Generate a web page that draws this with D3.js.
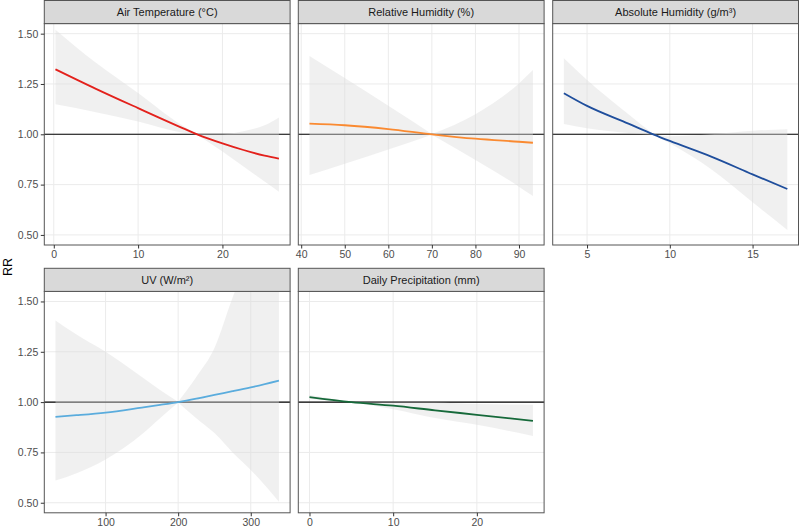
<!DOCTYPE html>
<html lang="en">
  <head>
    <meta charset="UTF-8" />
    <title>RR by weather variable</title>
    <script src="https://d3js.org/d3.v7.min.js"></script>
    <style>
      body { margin: 0; background: #fff; }
      svg { font-family: "Liberation Sans", Arial, sans-serif; }
    </style>
  </head>
  <body>
    <div id="chart"></div>
    <script>
      // values (RR with 95% band)
      const titles = [
        "Air Temperature (°C)",
        "Relative Humidity (%)",
        "Absolute Humidity (g/m³)",
        "UV (W/m²)",
        "Daily Precipitation (mm)",
      ];
      const colors = ["#E3211C", "#FA8A31", "#1F4E9C", "#5AACDD", "#16693A"];

      const tempX = [0.2, 5, 10, 15, 17, 20, 22.5, 25, 26.7];
      const tempFit = [1.323, 1.226, 1.13, 1.036, 1.0, 0.955, 0.922, 0.894, 0.879];
      const tempLo = [1.149, 1.11, 1.063, 1.01, 0.998, 0.914, 0.84, 0.765, 0.715];
      const tempHi = [1.52, 1.355, 1.205, 1.05, 1.002, 1.0, 1.015, 1.045, 1.084];

      const rhX = [41.9, 50, 60, 70, 80, 90, 93.2];
      const rhFit = [1.053, 1.045, 1.026, 1.0, 0.978, 0.963, 0.958];
      const rhLo = [0.798, 0.854, 0.925, 0.998, 0.872, 0.74, 0.693];
      const rhHi = [1.389, 1.28, 1.142, 1.002, 1.1, 1.253, 1.319];

      const ahX = [3.6, 5, 7.5, 9, 10, 12.5, 15, 17.1];
      const ahFit = [1.204, 1.141, 1.053, 1.0, 0.967, 0.889, 0.801, 0.728];
      const ahLo = [1.051, 1.03, 1.007, 0.998, 0.955, 0.826, 0.662, 0.525];
      const ahHi = [1.378, 1.27, 1.1, 1.002, 0.99, 1.0, 1.018, 1.025];

      const uvX = [31, 60, 100, 150, 175, 200, 225, 250, 275, 300, 338.8];
      const uvFit = [0.927, 0.935, 0.948, 0.973, 0.986, 1.0, 1.017, 1.036, 1.054, 1.073, 1.107];
      const uvLo = [0.61, 0.647, 0.715, 0.84, 0.92, 0.998, 0.92, 0.846, 0.75, 0.663, 0.505];
      const uvHi = [1.406, 1.336, 1.25, 1.125, 1.06, 1.002, 1.125, 1.269, 1.52, 1.74, 2.42];

      const prX = [0, 5, 10, 15, 20, 26.7];
      const prFit = [1.025, 1.0, 0.982, 0.959, 0.937, 0.907];
      const prLo = [1.015, 0.999, 0.965, 0.921, 0.887, 0.832];
      const prHi = [1.035, 1.001, 0.998, 0.998, 0.99, 0.987];

      const xTicks = [
        [0, 10, 20],
        [40, 50, 60, 70, 80, 90],
        [5, 10, 15],
        [100, 200, 300],
        [0, 10, 20],
      ];
      const yTicks = [0.5, 0.75, 1.0, 1.25, 1.5];
      const yDomain = [0.45, 1.55];

      const series = [
        [tempX, tempFit, tempLo, tempHi],
        [rhX, rhFit, rhLo, rhHi],
        [ahX, ahFit, ahLo, ahHi],
        [uvX, uvFit, uvLo, uvHi],
        [prX, prFit, prLo, prHi],
      ];

      const width = 800;
      const height = 528;
      const colLeft = [44.3, 298.3, 552.7];
      const panelW = 245.8;
      const stripTop = [0.5, 268.3];
      const stripH = 23.1;
      const panelH = 221.4;

      const svg = d3
        .select("#chart")
        .append("svg")
        .attr("width", width)
        .attr("height", height);

      series.forEach(function (s, i) {
        const col = i % 3;
        const row = Math.floor(i / 3);
        const left = colLeft[col];
        const top = stripTop[row] + stripH;
        const pts = s[0].map(function (x, j) {
          return { x: x, fit: s[1][j], lo: s[2][j], hi: s[3][j] };
        });

        // ggplot style 5% expansion of the data range
        const ext = d3.extent(s[0]);
        const pad = (ext[1] - ext[0]) * 0.05;
        const x = d3
          .scaleLinear()
          .domain([ext[0] - pad, ext[1] + pad])
          .range([left, left + panelW]);
        const y = d3
          .scaleLinear()
          .domain(yDomain)
          .range([top + panelH, top]);

        const g = svg.append("g");

        g.append("clipPath")
          .attr("id", "clip" + i)
          .append("rect")
          .attr("x", left)
          .attr("y", top)
          .attr("width", panelW)
          .attr("height", panelH);

        g.append("rect")
          .attr("x", left)
          .attr("y", top)
          .attr("width", panelW)
          .attr("height", panelH)
          .style("fill", "#fff");

        // grid
        g.selectAll(".vgrid")
          .data(xTicks[i])
          .enter()
          .append("line")
          .attr("x1", (d) => x(d))
          .attr("x2", (d) => x(d))
          .attr("y1", top)
          .attr("y2", top + panelH)
          .style("stroke", "#ebebeb")
          .style("stroke-width", 1);
        g.selectAll(".hgrid")
          .data(yTicks)
          .enter()
          .append("line")
          .attr("x1", left)
          .attr("x2", left + panelW)
          .attr("y1", (d) => y(d))
          .attr("y2", (d) => y(d))
          .style("stroke", "#ebebeb")
          .style("stroke-width", 1);

        // reference line at RR = 1
        g.append("line")
          .attr("x1", left)
          .attr("x2", left + panelW)
          .attr("y1", y(1))
          .attr("y2", y(1))
          .style("stroke", "#000")
          .style("stroke-width", 1.1);

        // band is split at the reference value so the pinch stays sharp
        let pinch = 0;
        pts.forEach(function (p, j) {
          if (p.hi - p.lo < pts[pinch].hi - pts[pinch].lo) pinch = j;
        });
        const band = d3
          .area()
          .x((d) => x(d.x))
          .y0((d) => y(d.lo))
          .y1((d) => y(d.hi))
          .curve(d3.curveMonotoneX);
        g.selectAll(".band")
          .data([pts.slice(0, pinch + 1), pts.slice(pinch)])
          .enter()
          .append("path")
          .attr("clip-path", "url(#clip" + i + ")")
          .attr("d", band)
          .style("fill", "#dcdcdc")
          .style("fill-opacity", 0.42);

        const line = d3
          .line()
          .x((d) => x(d.x))
          .y((d) => y(d.fit))
          .curve(d3.curveMonotoneX);
        g.append("path")
          .datum(pts)
          .attr("clip-path", "url(#clip" + i + ")")
          .attr("d", line)
          .style("fill", "none")
          .style("stroke", colors[i])
          .style("stroke-width", 1.8);

        g.append("rect")
          .attr("x", left)
          .attr("y", top)
          .attr("width", panelW)
          .attr("height", panelH)
          .style("fill", "none")
          .style("stroke", "#555")
          .style("stroke-width", 1);

        // strip
        g.append("rect")
          .attr("x", left)
          .attr("y", stripTop[row])
          .attr("width", panelW)
          .attr("height", stripH)
          .style("fill", "#d9d9d9")
          .style("stroke", "#555")
          .style("stroke-width", 1);
        g.append("text")
          .attr("x", left + panelW / 2)
          .attr("y", stripTop[row] + stripH / 2 + 4)
          .attr("text-anchor", "middle")
          .style("font-size", "11px")
          .style("fill", "#1a1a1a")
          .text(titles[i]);

        // x axis
        const xAxis = g
          .append("g")
          .attr("transform", "translate(0," + (top + panelH) + ")")
          .call(
            d3.axisBottom(x).tickValues(xTicks[i]).tickSize(3.5).tickPadding(2.5)
          );
        xAxis.select(".domain").remove();
        xAxis.selectAll("line").style("stroke", "#333");
        xAxis
          .selectAll("text")
          .style("font-size", "10.5px")
          .style("fill", "#4d4d4d")
          .style("font-family", "Liberation Sans, Arial, sans-serif");

        // y axis only on the left column
        if (col === 0) {
          const yAxis = g
            .append("g")
            .attr("transform", "translate(" + left + ",0)")
            .call(
              d3
                .axisLeft(y)
                .tickValues(yTicks)
                .tickFormat(d3.format(".2f"))
                .tickSize(3.5)
                .tickPadding(2.5)
            );
          yAxis.select(".domain").remove();
          yAxis.selectAll("line").style("stroke", "#333");
          yAxis
            .selectAll("text")
            .style("font-size", "10.5px")
            .style("fill", "#4d4d4d")
            .style("font-family", "Liberation Sans, Arial, sans-serif");
        }
      });

      svg
        .append("text")
        .attr("transform", "translate(12,267) rotate(-90)")
        .attr("text-anchor", "middle")
        .style("font-size", "12.5px")
        .style("fill", "#000")
        .text("RR");
    </script>
  </body>
</html>
